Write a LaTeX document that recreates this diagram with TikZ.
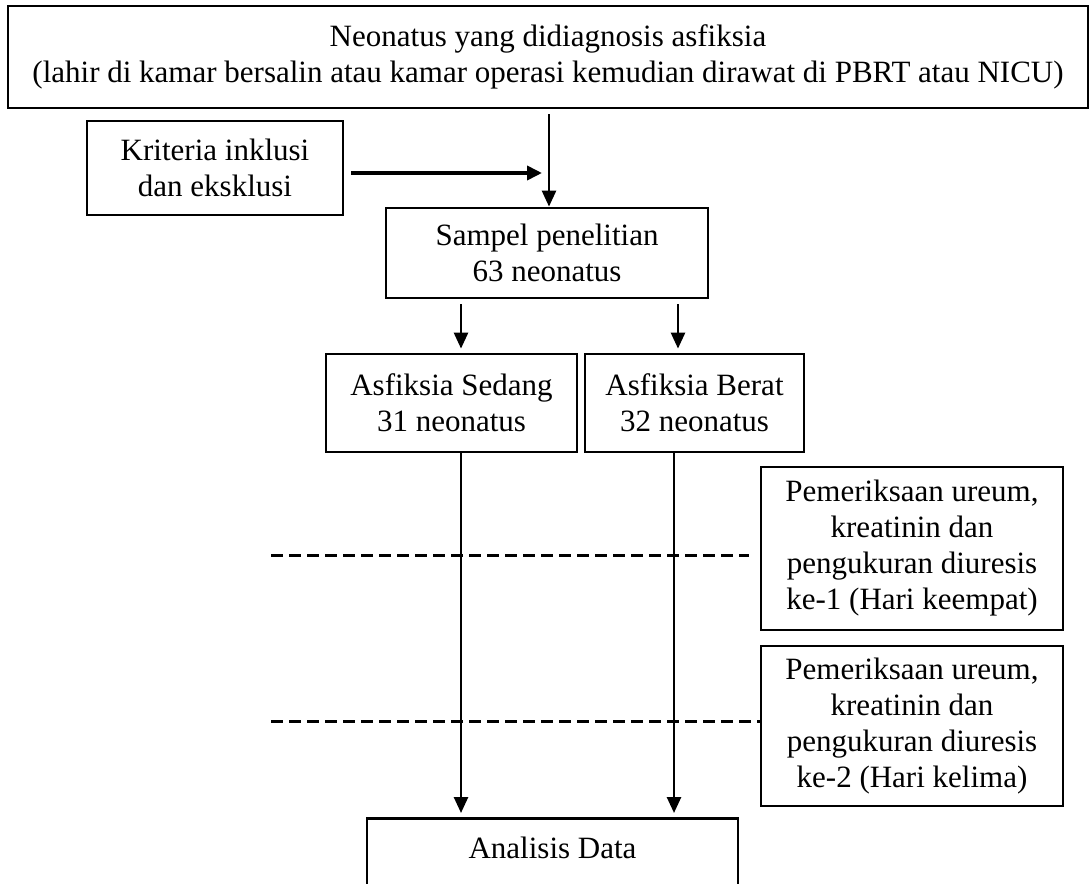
\documentclass[tikz,border=0pt]{standalone}
\usepackage{fontspec}
\setmainfont{Liberation Serif}
\usetikzlibrary{arrows.meta}
\begin{document}
\begin{tikzpicture}[x=0.5pt,y=-0.5pt,
  box/.style={draw, line width=1.4pt, align=center, inner sep=0pt,
    font=\fontsize{15.5}{18}\selectfont},
  arr/.style={line width=1.3pt, -{Triangle[length=8pt,width=7pt]}},
  arrthick/.style={line width=1.8pt, -{Triangle[length=7.5pt,width=7pt]}},
  dashline/.style={line width=1.5pt, dash pattern=on 6pt off 3pt}]
\useasboundingbox (0,0) rectangle (1090,883);
\clip (0,0) rectangle (1090,883);
\fill[white] (0,0) rectangle (1090,883);
% nodes
\node[box, minimum width=540pt, minimum height=51pt] (top) at (548,57)
  {Neonatus yang didiagnosis asfiksia\\(lahir di kamar bersalin atau kamar operasi kemudian dirawat di PBRT atau NICU)};
\node[box, minimum width=128pt, minimum height=47pt] (krit) at (215,168)
  {Kriteria inklusi\\dan eksklusi};
\node[box, minimum width=161pt, minimum height=45pt] (sampel) at (547,253)
  {Sampel penelitian\\63 neonatus};
\node[box, minimum width=125.5pt, minimum height=49pt] (sedang) at (451.5,403)
  {Asfiksia Sedang\\31 neonatus};
\node[box, minimum width=109.5pt, minimum height=49pt] (berat) at (694.5,403)
  {Asfiksia Berat\\32 neonatus};
\node[box, minimum width=151pt, minimum height=81.5pt] (pem1) at (912,548.5)
  {Pemeriksaan ureum,\\kreatinin dan\\pengukuran diuresis\\ke-1 (Hari keempat)};
\node[box, minimum width=151pt, minimum height=80pt] (pem2) at (912,726)
  {Pemeriksaan ureum,\\kreatinin dan\\pengukuran diuresis\\ke-2 (Hari kelima)};
\node[box, anchor=north, minimum width=185.5pt, text height=12pt, text depth=40pt, inner ysep=8pt] (analisis) at (552.5,817)
  {Analisis Data};
% coordinates
\coordinate (vx) at (549,0);
\coordinate (kj) at (542,173);
\coordinate (aL) at (461,0);
\coordinate (aR) at (678,0);
\coordinate (bL) at (461,0);
\coordinate (bR) at (674,0);
\coordinate (d1) at (271,555);
\coordinate (d2) at (271,721);
% connectors
\draw[arr, shorten <=2.5pt] (top.south -| vx) -- (sampel.north -| vx);
\draw[arrthick, shorten <=3.5pt] (krit.east |- kj) -- (kj);
\draw[arr, shorten <=2.5pt, shorten >=2pt] (sampel.south -| aL) -- (sedang.north -| aL);
\draw[arr, shorten <=2.5pt, shorten >=2pt] (sampel.south -| aR) -- (berat.north -| aR);
\draw[arr, shorten >=2pt] (sedang.south -| bL) -- (analisis.north -| bL);
\draw[arr, shorten >=2pt] (berat.south -| bR) -- (analisis.north -| bR);
\draw[dashline, shorten >=5.5pt] (d1) -- (d1 -| pem1.west);
\draw[dashline] (d2) -- (d2 -| pem2.west);
\end{tikzpicture}
\end{document}
